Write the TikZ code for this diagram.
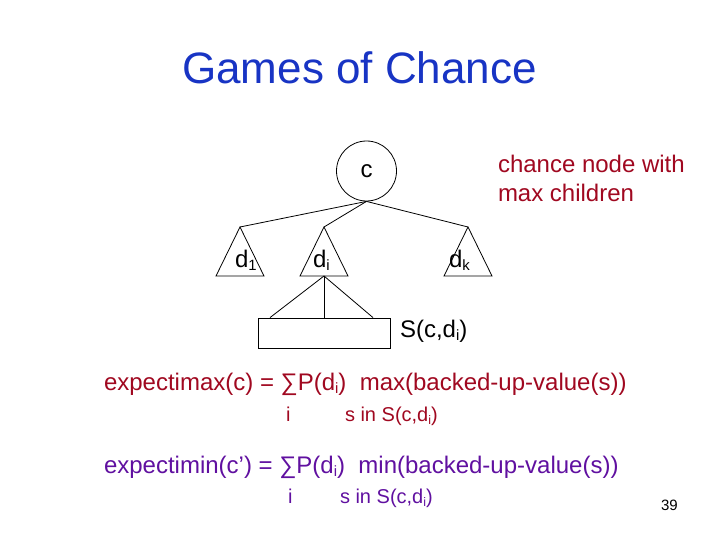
\documentclass[tikz,border=0pt]{standalone}
\usepackage{fontspec}
\setmainfont{Liberation Sans}
\definecolor{titleblue}{RGB}{24,52,196}
\definecolor{darkred}{RGB}{160,8,32}
\definecolor{darkpurple}{RGB}{96,16,160}
\newcommand\subx[1]{\raisebox{-0.3ex}{\scalebox{0.62}{#1}}}
\tikzset{
  txt/.style={anchor=base west, inner sep=0pt, outer sep=0pt},
  big/.style={font=\fontsize{24}{28}\selectfont},
  small/.style={font=\fontsize{20}{24}\selectfont},
  tri/.style={draw=black, line width=0.8pt, line join=miter},
  edge/.style={draw=black, line width=0.8pt},
}
\begin{document}
\begin{tikzpicture}[x=1pt,y=-1pt]
\useasboundingbox (0,0) rectangle (720,540);
% title
\node[anchor=base, inner sep=0pt, text=titleblue, font=\fontsize{44}{50}\selectfont] (title) at (359.5,84) {Games of Chance};
% chance node
\node[draw=black, line width=0.8pt, circle, minimum size=60pt, inner sep=0pt, big] (c) at (366.5,171) {c};
% apex coordinates
\coordinate (a1) at (240,227);
\coordinate (ai) at (324,227);
\coordinate (ak) at (468,227);
\coordinate (bi) at (324,276);
% triangles
\draw[tri] (a1) -- (216,276) -- (264,276) -- cycle;
\draw[tri] (ai) -- (300,276) -- (348,276) -- cycle;
\draw[tri] (ak) -- (444,276) -- (492,276) -- cycle;
% edges from c
\draw[edge] (c.south) -- (a1);
\draw[edge] (c.south) -- (ai);
\draw[edge] (c.south) -- (ak);
% successor box
\node[draw=black, line width=0.8pt, minimum width=132pt, minimum height=30pt, inner sep=0pt] (S) at (324,333) {};
\draw[edge] (bi) -- ([xshift=-54pt]S.north);
\draw[edge] (bi) -- (S.north);
\draw[edge] (bi) -- ([xshift=49pt]S.north);
% triangle labels
\node[txt, big] (d1) at (235,267) {d\subx{1}};
\node[txt, big] (di) at (313,267) {d\subx{i}};
\node[txt, big] (dk) at (449,267) {d\subx{k}};
\node[txt, big] (Slab) at (400,337) {S(c,d\subx{i})};
% note
\node[txt, big, text=darkred] (note1) at (498,173) {chance node with};
\node[txt, big, text=darkred] (note2) at (498,202) {max children};
% formulas
\node[txt, big, text=darkred] (emax) at (104,390) {expectimax(c) = ∑P(d\subx{i})\ \ max(backed-up-value(s))};
\node[txt, small, text=darkred] (emaxi) at (286,421) {i};
\node[txt, small, text=darkred] (emaxs) at (345,421) {s in S(c,d\subx{i})};
\node[txt, big, text=darkpurple] (emin) at (104,473) {expectimin(c’) = ∑P(d\subx{i})\ \ min(backed-up-value(s))};
\node[txt, small, text=darkpurple] (emini) at (288,503) {i};
\node[txt, small, text=darkpurple] (emins) at (340,503) {s in S(c,d\subx{i})};
% page number
\node[txt, font=\fontsize{15}{18}\selectfont] (pg) at (661,510) {39};
\end{tikzpicture}
\end{document}
